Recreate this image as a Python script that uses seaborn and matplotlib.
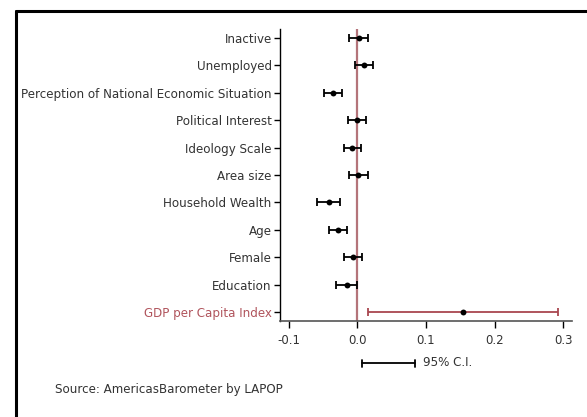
import matplotlib
matplotlib.use("Agg")
import matplotlib.pyplot as plt
from matplotlib.lines import Line2D
import seaborn as sns
import pandas as pd

variables = ["Inactive", "Unemployed", "Perception of National Economic Situation",
             "Political Interest", "Ideology Scale", "Area size", "Household Wealth",
             "Age", "Female", "Education", "GDP per Capita Index"]
coef = [0.002, 0.009, -0.036, -0.001, -0.008, 0.001, -0.042, -0.029, -0.006, -0.015, 0.154]
ci_low = [-0.012, -0.004, -0.049, -0.014, -0.020, -0.012, -0.059, -0.042, -0.020, -0.031, 0.016]
ci_high = [0.016, 0.022, -0.023, 0.013, 0.005, 0.016, -0.025, -0.015, 0.007, 0.000, 0.293]
xticks = [-0.1, 0.0, 0.1, 0.2, 0.3]
xticklabels = ["-0.1", "0.0", "0.1", "0.2", "0.3"]

df = pd.DataFrame({"var": variables, "coef": coef, "lo": ci_low, "hi": ci_high})
df["pos"] = range(len(df))

sns.set_theme(style="white")
plt.rcParams["font.family"] = ["DejaVu Sans"]

red_line = "#b4747a"
red_bar = "#a9474f"
red_text = "#b0545c"
txt = "#333333"

fig = plt.figure(figsize=(5.87, 4.17), dpi=100)
ax = fig.add_axes([280/587, 1-321/417, (572-280)/587, (321-29)/417])

ax.axvline(0, color=red_line, lw=1.6, zorder=1)

for i, r in df.iterrows():
    col = red_bar if r["var"] == "GDP per Capita Index" else "black"
    ax.errorbar(r["coef"], r["pos"], xerr=[[r["coef"] - r["lo"]], [r["hi"] - r["coef"]]],
                fmt="none", ecolor=col, elinewidth=1.3, capsize=2.6, capthick=1.3, zorder=2)

sns.scatterplot(data=df, x="coef", y="pos", color="black", s=18, edgecolor="black",
                linewidth=0, ax=ax, zorder=3, legend=False)

ax.set_ylim(len(df) - 1 + 0.33, -0.33)
ax.set_xlim(-0.113, 0.313)
ax.set_yticks(df["pos"])
ax.set_yticklabels(df["var"], fontsize=8.6, color=txt)
for lab in ax.get_yticklabels():
    if lab.get_text() == "GDP per Capita Index":
        lab.set_color(red_text)
ax.set_xticks(xticks)
ax.set_xticklabels(xticklabels, fontsize=8.5, color=txt)
ax.set_xlabel("")
ax.set_ylabel("")

for s in ["top", "right"]:
    ax.spines[s].set_visible(False)
ax.spines["left"].set_color("black")
ax.spines["left"].set_linewidth(1.0)
ax.spines["bottom"].set_color("#555555")
ax.spines["bottom"].set_linewidth(1.2)
ax.tick_params(axis="y", which="both", left=True, length=4, width=1, color="black", pad=2)
ax.tick_params(axis="x", which="both", bottom=True, length=5, width=1, color="black", pad=4)

# legend for 95% C.I.
ly = 1 - 363/417
fig.add_artist(Line2D([362/587, 415/587], [ly, ly], color="black", lw=1.3))
for xx in [362/587, 415/587]:
    fig.add_artist(Line2D([xx, xx], [ly - 3.5/417, ly + 3.5/417], color="black", lw=1.3))
fig.text(423/587, ly, "95% C.I.", fontsize=8.6, color=txt, va="center", ha="left")

fig.text(55/587, 1 - 389/417, "Source: AmericasBarometer by LAPOP", fontsize=8.6,
         color=txt, va="center", ha="left")

# outer frame
fig.add_artist(Line2D([15.5/587, 15.5/587], [0, 1 - 10.5/417], color="black", lw=2.2))
fig.add_artist(Line2D([15.5/587, 1], [1 - 10.5/417, 1 - 10.5/417], color="black", lw=2.2))

fig.savefig("out.png", dpi=100)
